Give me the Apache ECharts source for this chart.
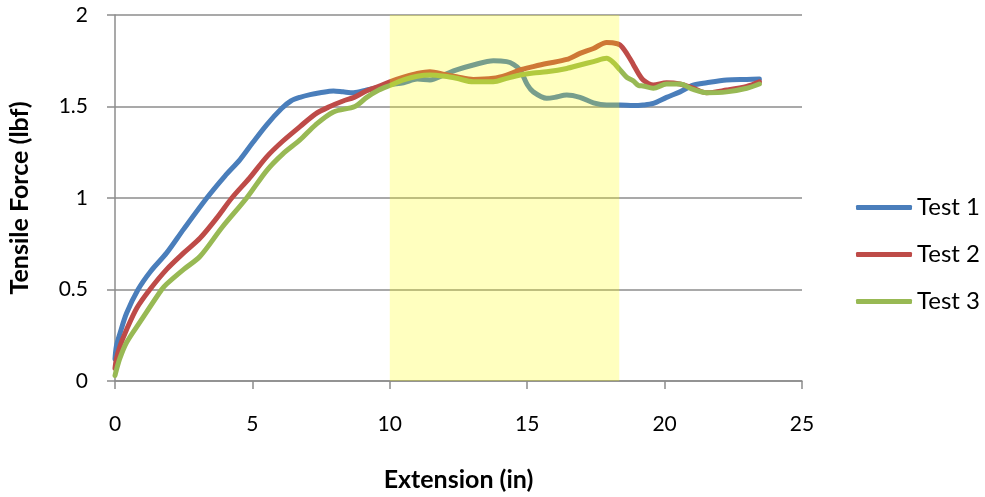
<!DOCTYPE html>
<html>
<head>
<meta charset="utf-8">
<script src="https://cdn.jsdelivr.net/npm/echarts@6/dist/echarts.min.js"></script>
<style>
html,body{margin:0;padding:0;background:#fff;}
#c{width:985px;height:497px;}
</style>
</head>
<body>
<div id="c"></div>
<script>
// ---- data ----
var seriesNames = ['Test 1', 'Test 2', 'Test 3'];
var seriesColors = ['#4A7EBB', '#BE4B48', '#98B954'];

var test1X = [0, 0.05, 0.18, 0.42, 0.84, 1.3, 1.88, 2.5, 3.34, 4.0, 4.55, 5.0, 5.52, 6.07, 6.4, 6.73, 7.1, 7.46, 7.95, 8.3, 8.68, 9.16, 9.6, 10.0, 10.5, 11.0, 11.46, 12.0, 12.43, 13.04, 13.77, 14.25, 14.5, 14.74, 15.0, 15.22, 15.71, 16.0, 16.44, 16.92, 17.41, 17.89, 18.38, 18.86, 19.22, 19.59, 20.07, 20.56, 21.04, 21.53, 22.26, 22.99, 23.45];
var test1Y = [0.12, 0.19, 0.26, 0.37, 0.50, 0.60, 0.70, 0.83, 1.0, 1.12, 1.21, 1.30, 1.40, 1.49, 1.53, 1.55, 1.565, 1.575, 1.585, 1.58, 1.575, 1.59, 1.605, 1.62, 1.63, 1.65, 1.645, 1.675, 1.70, 1.727, 1.75, 1.745, 1.73, 1.70, 1.62, 1.58, 1.545, 1.55, 1.563, 1.55, 1.52, 1.508, 1.508, 1.505, 1.508, 1.517, 1.55, 1.58, 1.617, 1.63, 1.645, 1.648, 1.65];

var test2X = [0, 0.05, 0.18, 0.42, 0.8, 1.27, 1.88, 2.5, 3.09, 3.7, 4.25, 4.9, 5.52, 6.1, 6.73, 7.3, 7.82, 8.3, 8.7, 9.16, 9.6, 10.0, 10.5, 11.0, 11.46, 12.0, 12.43, 13.04, 13.77, 14.25, 14.74, 15.22, 15.71, 16.44, 16.92, 17.41, 17.89, 18.1, 18.38, 18.62, 18.86, 19.05, 19.22, 19.59, 20.07, 20.56, 21.04, 21.53, 22.26, 22.99, 23.45];
var test2Y = [0.07, 0.12, 0.19, 0.28, 0.40, 0.50, 0.61, 0.70, 0.78, 0.89, 1.0, 1.11, 1.225, 1.31, 1.39, 1.46, 1.50, 1.53, 1.55, 1.586, 1.61, 1.635, 1.66, 1.68, 1.69, 1.675, 1.663, 1.648, 1.654, 1.672, 1.70, 1.718, 1.735, 1.757, 1.79, 1.817, 1.85, 1.848, 1.836, 1.79, 1.73, 1.68, 1.645, 1.617, 1.63, 1.623, 1.60, 1.575, 1.59, 1.61, 1.635];

var test3X = [0, 0.05, 0.18, 0.42, 0.9, 1.7, 1.88, 2.5, 3.09, 3.9, 4.79, 5.52, 6.1, 6.73, 7.3, 7.95, 8.73, 9.16, 9.6, 10.0, 10.5, 11.0, 11.46, 12.0, 12.43, 13.04, 13.77, 14.25, 14.74, 15.22, 15.71, 16.44, 16.92, 17.41, 17.89, 18.1, 18.38, 18.62, 18.86, 19.05, 19.22, 19.59, 20.07, 20.56, 21.04, 21.53, 22.26, 22.99, 23.45];
var test3Y = [0.03, 0.06, 0.125, 0.21, 0.32, 0.50, 0.53, 0.61, 0.68, 0.84, 1.0, 1.15, 1.24, 1.317, 1.40, 1.47, 1.50, 1.55, 1.59, 1.615, 1.645, 1.665, 1.672, 1.665, 1.654, 1.635, 1.635, 1.654, 1.672, 1.683, 1.69, 1.708, 1.727, 1.745, 1.763, 1.745, 1.70, 1.66, 1.64, 1.615, 1.612, 1.60, 1.623, 1.623, 1.593, 1.575, 1.58, 1.60, 1.623];

var highlightRange = [10, 18.35];
var xTicks = [0, 25, 5];
var yTicks = [0, 2, 0.5];

function pairs(xs, ys) { return xs.map(function (x, i) { return [x, ys[i]]; }); }

var font = 'Lato';
var chart = echarts.init(document.getElementById('c'), null, {renderer: 'canvas'});
var allX = [test1X, test2X, test3X];
var allY = [test1Y, test2Y, test3Y];

var series = seriesNames.map(function (n, i) {
  return {
    name: n, type: 'line', data: pairs(allX[i], allY[i]),
    showSymbol: false, symbol: 'none', smooth: 0.3, z: 2 + i,
    lineStyle: {color: seriesColors[i], width: 5, cap: 'round', join: 'round'},
    itemStyle: {color: seriesColors[i]},
    animation: false
  };
});
series.push({
  name: 'band', type: 'line', data: [], z: 20,
  markArea: {
    silent: true, z: 20,
    itemStyle: {color: 'rgba(255,255,0,0.25)'},
    data: [[{xAxis: highlightRange[0]}, {xAxis: highlightRange[1]}]]
  },
  animation: false
});

chart.setOption({
  animation: false,
  backgroundColor: '#fff',
  grid: {left: 115, right: 183, top: 15, bottom: 116, containLabel: false, outerBoundsMode: 'none'},
  legend: {
    data: seriesNames, orient: 'vertical', left: 851, top: 189,
    itemWidth: 56, itemHeight: 5, itemGap: 20, icon: 'roundRect',
    textStyle: {fontFamily: font, fontSize: 24, color: '#000', lineHeight: 27}
  },
  xAxis: {
    type: 'value', min: xTicks[0], max: xTicks[1], interval: xTicks[2],
    name: 'Extension (in)', nameLocation: 'middle', nameGap: 86,
    nameTextStyle: {fontFamily: font, fontSize: 25, fontWeight: 'bold', color: '#000'},
    axisLine: {show: true, lineStyle: {color: '#8c8c8c', width: 1.5}},
    axisTick: {show: true, length: 8, lineStyle: {color: '#8c8c8c', width: 1.5}},
    axisLabel: {fontFamily: font, fontSize: 21, color: '#000', margin: 33},
    splitLine: {show: false}
  },
  yAxis: {
    type: 'value', min: yTicks[0], max: yTicks[1], interval: yTicks[2],
    name: 'Tensile Force (lbf)', nameLocation: 'middle', nameGap: 83,
    nameTextStyle: {fontFamily: font, fontSize: 25, fontWeight: 'bold', color: '#000'},
    axisLine: {show: true, lineStyle: {color: '#8c8c8c', width: 1.5}},
    axisTick: {show: true, length: 8, lineStyle: {color: '#8c8c8c', width: 1.5}},
    axisLabel: {fontFamily: font, fontSize: 21, color: '#000', margin: 27},
    splitLine: {show: true, lineStyle: {color: '#8c8c8c', width: 1.5}}
  },
  series: series
});
</script>
</body>
</html>
